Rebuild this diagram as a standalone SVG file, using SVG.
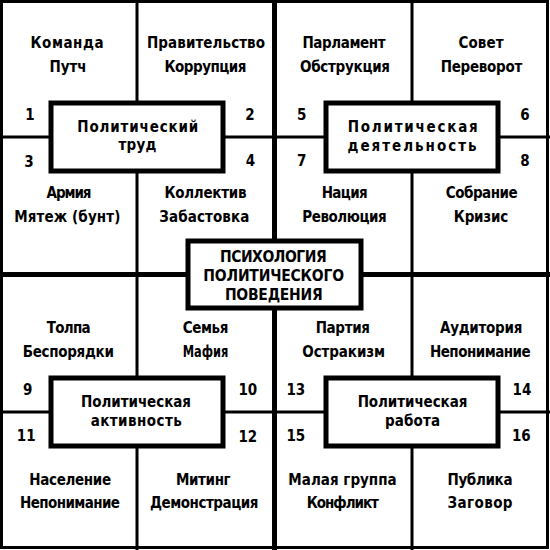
<svg xmlns="http://www.w3.org/2000/svg" width="550" height="550" viewBox="0 0 550 550">
<style>
.bg{fill:#fff}
.frame{fill:none;stroke:#000;stroke-width:3}
.thin{stroke:#000;stroke-width:3;fill:none}
.thick{stroke:#000;stroke-width:5;fill:none}
.box{fill:#fff;stroke:#000;stroke-width:5}
text{font-family:"DejaVu Sans Condensed","DejaVu Sans","Liberation Sans",sans-serif;font-weight:bold;font-size:15px;fill:#000;text-anchor:middle;font-stretch:condensed}
.num{font-size:15px}
.head{font-size:15.5px}
</style>
<rect class="bg" x="0" y="0" width="550" height="550"/>
<g id="connectors">
<rect class="frame" x="1.5" y="1.5" width="546" height="546"/>
<line class="thin" x1="137" y1="0" x2="137" y2="550"/>
<line class="thin" x1="412" y1="0" x2="412" y2="550"/>
<line class="thin" x1="0" y1="137" x2="550" y2="137"/>
<line class="thin" x1="0" y1="412" x2="550" y2="412"/>
<line class="thick" x1="274.5" y1="0" x2="274.5" y2="550"/>
<line class="thick" x1="0" y1="274.5" x2="550" y2="274.5"/>
</g>
<g id="cell1"><text x="67" y="48" textLength="73" lengthAdjust="spacing">Команда</text><text x="68" y="72" textLength="37" lengthAdjust="spacing">Путч</text><text class="num" x="30" y="120">1</text></g>
<g id="cell2"><text x="206" y="48" textLength="118" lengthAdjust="spacing">Правительство</text><text x="205.5" y="72" textLength="82" lengthAdjust="spacing">Коррупция</text><text class="num" x="250" y="120">2</text></g>
<g id="cell3"><text x="69" y="198.3" textLength="45" lengthAdjust="spacing">Армия</text><text x="67.3" y="221.7" textLength="106" lengthAdjust="spacing">Мятеж (бунт)</text><text class="num" x="29" y="166.5">3</text></g>
<g id="cell4"><text x="205.5" y="198.3" textLength="82" lengthAdjust="spacing">Коллектив</text><text x="204.3" y="221.7" textLength="90" lengthAdjust="spacing">Забастовка</text><text class="num" x="250.5" y="166">4</text></g>
<g id="cell5"><text x="344" y="48" textLength="83" lengthAdjust="spacing">Парламент</text><text x="345" y="72" textLength="90" lengthAdjust="spacing">Обструкция</text><text class="num" x="301.7" y="120">5</text></g>
<g id="cell6"><text x="481" y="48" textLength="45" lengthAdjust="spacing">Совет</text><text x="481.5" y="72" textLength="81.7" lengthAdjust="spacing">Переворот</text><text class="num" x="525" y="119.5">6</text></g>
<g id="cell7"><text x="344.7" y="198.3" textLength="46" lengthAdjust="spacing">Нация</text><text x="344.5" y="221.7" textLength="84.3" lengthAdjust="spacing">Революция</text><text class="num" x="301.7" y="166">7</text></g>
<g id="cell8"><text x="481.7" y="198.3" textLength="72" lengthAdjust="spacing">Собрание</text><text x="481" y="221.7" textLength="54.3" lengthAdjust="spacing">Кризис</text><text class="num" x="525" y="166">8</text></g>
<g id="cell9"><text x="68.7" y="333.3" textLength="44" lengthAdjust="spacing">Толпа</text><text x="68.3" y="356.7" textLength="91.3" lengthAdjust="spacing">Беспорядки</text><text class="num" x="27.8" y="395">9</text></g>
<g id="cell10"><text x="205.5" y="333.3" textLength="45.7" lengthAdjust="spacing">Семья</text><text x="205.5" y="356.7" textLength="45.7" lengthAdjust="spacingAndGlyphs">Мафия</text><text class="num" x="247.8" y="395">10</text></g>
<g id="cell11"><text x="70.2" y="485" textLength="81.7" lengthAdjust="spacing">Население</text><text x="70" y="508.3" textLength="100" lengthAdjust="spacing">Непонимание</text><text class="num" x="26.2" y="441">11</text></g>
<g id="cell12"><text x="203.3" y="485" textLength="54.7" lengthAdjust="spacing">Митинг</text><text x="204.2" y="508.3" textLength="108.3" lengthAdjust="spacing">Демонстрация</text><text class="num" x="247.8" y="441.5">12</text></g>
<g id="cell13"><text x="342.8" y="333.3" textLength="54.3" lengthAdjust="spacing">Партия</text><text x="343.7" y="356.7" textLength="82.7" lengthAdjust="spacing">Остракизм</text><text class="num" x="295.8" y="395">13</text></g>
<g id="cell14"><text x="481.2" y="333.3" textLength="82.3" lengthAdjust="spacing">Аудитория</text><text x="480.3" y="356.7" textLength="100.7" lengthAdjust="spacing">Непонимание</text><text class="num" x="522" y="394.5">14</text></g>
<g id="cell15"><text x="342.5" y="485" textLength="108.3" lengthAdjust="spacing">Малая группа</text><text x="342.8" y="508.3" textLength="72.3" lengthAdjust="spacing">Конфликт</text><text class="num" x="295.8" y="441">15</text></g>
<g id="cell16"><text x="480" y="485" textLength="65" lengthAdjust="spacing">Публика</text><text x="480" y="508.3" textLength="65" lengthAdjust="spacing">Заговор</text><text class="num" x="521.3" y="441">16</text></g>
<g id="box-trud"><rect class="box" x="51" y="103" width="172" height="68"/><text x="137.8" y="131.7" textLength="121" lengthAdjust="spacing">Политический</text><text x="137.5" y="150" textLength="38" lengthAdjust="spacing">труд</text></g>
<g id="box-deyatelnost"><rect class="box" x="326" y="103" width="172" height="68"/><text x="412.7" y="131.7" textLength="130" lengthAdjust="spacing">Политическая</text><text x="412" y="150.5" textLength="129" lengthAdjust="spacing">деятельность</text></g>
<g id="box-aktivnost"><rect class="box" x="51" y="378" width="172" height="68"/><text x="136" y="406.7" textLength="110" lengthAdjust="spacing">Политическая</text><text x="136.2" y="425.7" textLength="91" lengthAdjust="spacing">активность</text></g>
<g id="box-rabota"><rect class="box" x="326" y="378" width="172" height="68"/><text x="412.5" y="406.7" textLength="109.7" lengthAdjust="spacing">Политическая</text><text x="412.5" y="425.7" textLength="55" lengthAdjust="spacing">работа</text></g>
<g id="box-center"><rect class="box" x="188" y="241" width="173" height="67"/><text class="head" x="273.3" y="261.7" textLength="106.7" lengthAdjust="spacing">ПСИХОЛОГИЯ</text><text class="head" x="273.7" y="281" textLength="140.7" lengthAdjust="spacing">ПОЛИТИЧЕСКОГО</text><text class="head" x="273.8" y="300" textLength="97.7" lengthAdjust="spacing">ПОВЕДЕНИЯ</text></g>
</svg>
